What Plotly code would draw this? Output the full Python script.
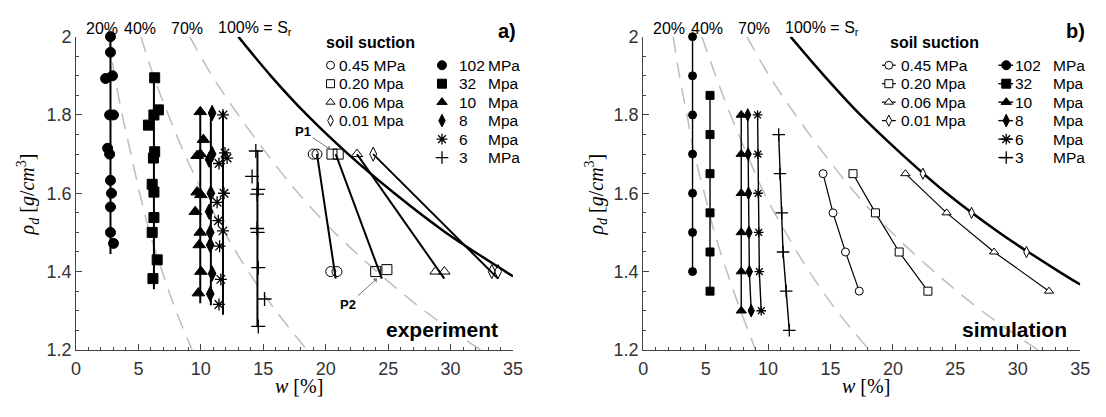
import plotly.graph_objects as go

W, H = 1106, 417

# ---------------- data: experiment (panel a) ----------------
# high suctions (filled markers): water content w [%], dry density rho_d [g/cm3]
exp_102_w = [2.76, 2.76, 2.37, 2.92, 2.69, 3.0, 2.53, 2.69, 2.76, 2.84, 2.76, 2.76, 3.0]
exp_102_r = [2.0, 1.96, 1.893, 1.90, 1.80, 1.80, 1.715, 1.70, 1.633, 1.60, 1.565, 1.50, 1.472]
exp_32_w = [6.3, 5.8, 6.24, 6.6, 6.3, 6.2, 6.1, 6.24, 6.24, 6.1, 6.5, 6.16]
exp_32_r = [1.895, 1.774, 1.80, 1.813, 1.706, 1.69, 1.623, 1.603, 1.538, 1.50, 1.43, 1.382]
exp_10_w = [9.95, 10.2, 9.7, 9.95, 9.7, 10.0, 9.55, 9.95, 9.87, 10.0, 9.8]
exp_10_r = [1.808, 1.737, 1.696, 1.70, 1.603, 1.596, 1.553, 1.50, 1.468, 1.40, 1.345]
exp_8_w = [10.9, 10.66, 10.9, 10.8, 10.66, 10.75, 10.75, 10.9, 10.75]
exp_8_r = [1.805, 1.686, 1.70, 1.60, 1.553, 1.50, 1.468, 1.395, 1.343]
exp_6_w = [11.77, 11.93, 11.45, 12.1, 11.85, 11.3, 11.4, 11.77, 11.5, 11.6, 11.45]
exp_6_r = [1.80, 1.703, 1.676, 1.69, 1.60, 1.577, 1.53, 1.504, 1.465, 1.38, 1.316]
exp_3_w = [14.4, 14.1, 14.6, 14.5, 14.5, 14.55, 14.6, 15.1, 14.6]
exp_3_r = [1.708, 1.643, 1.61, 1.598, 1.51, 1.50, 1.41, 1.33, 1.26]
# vertical trend lines of the high-suction groups
exp_vline_w = [2.76, 6.24, 9.95, 10.8, 11.77, 14.53]
exp_vline_top = [2.0, 1.90, 1.81, 1.81, 1.81, 1.71]
exp_vline_bot = [1.445, 1.355, 1.319, 1.314, 1.29, 1.258]
# low suctions (open markers)
exp_045_w = [19.0, 19.3, 20.4, 20.9]
exp_045_r = [1.70, 1.70, 1.40, 1.40]
exp_020_w = [20.5, 21.0, 24.0, 24.9]
exp_020_r = [1.70, 1.70, 1.40, 1.405]
exp_006_w = [22.5, 28.8, 29.5]
exp_006_r = [1.70, 1.40, 1.40]
exp_001_w = [23.8, 33.3, 33.8]
exp_001_r = [1.70, 1.40, 1.40]
# wetting paths of the low-suction groups
exp_path_w_top = [19.3, 20.8, 22.5, 23.8]
exp_path_r_top = [1.70, 1.70, 1.70, 1.70]
exp_path_w_bot = [20.8, 24.5, 29.5, 33.8]
exp_path_r_bot = [1.382, 1.382, 1.382, 1.382]

# ---------------- data: simulation (panel b) ----------------
sim_102_w = [3.95, 3.95, 3.95, 3.95, 3.95, 3.95, 3.95]
sim_102_r = [2.0, 1.9, 1.8, 1.7, 1.6, 1.5, 1.4]
sim_32_w = [5.35, 5.35, 5.35, 5.35, 5.35, 5.35]
sim_32_r = [1.85, 1.75, 1.65, 1.55, 1.45, 1.35]
sim_10_w = [7.85, 7.85, 7.85, 7.85, 7.85, 7.85]
sim_10_r = [1.8, 1.7, 1.6, 1.5, 1.4, 1.3]
sim_8_w = [8.37, 8.4, 8.43, 8.47, 8.5, 8.65]
sim_8_r = [1.8, 1.7, 1.6, 1.5, 1.4, 1.3]
sim_6_w = [9.16, 9.18, 9.2, 9.25, 9.3, 9.45]
sim_6_r = [1.8, 1.7, 1.6, 1.5, 1.4, 1.3]
sim_3_w = [10.85, 10.95, 11.1, 11.2, 11.45, 11.7]
sim_3_r = [1.75, 1.65, 1.55, 1.45, 1.35, 1.25]
sim_045_w = [14.4, 15.2, 16.2, 17.3]
sim_045_r = [1.65, 1.55, 1.45, 1.35]
sim_020_w = [16.8, 18.6, 20.5, 22.8]
sim_020_r = [1.65, 1.55, 1.45, 1.35]
sim_006_w = [21.0, 24.3, 28.1, 32.5]
sim_006_r = [1.65, 1.55, 1.45, 1.35]
sim_001_w = [22.4, 26.3, 30.7]
sim_001_r = [1.65, 1.55, 1.45]

# ---------------- saturation lines ----------------
sat_r = [2.0, 1.9, 1.8, 1.7, 1.6, 1.5, 1.4, 1.3, 1.2]
exp_sat20 = [2.6, 3.1, 3.7, 4.4, 5.1, 5.9, 6.9, 8.0, 9.3]
exp_sat40 = [5.2, 6.2, 7.4, 8.7, 10.2, 11.9, 13.8, 16.0, 18.5]
exp_sat70 = [9.1, 10.9, 13.0, 15.3, 17.8, 20.7, 24.1, 27.9, 32.4]
exp_sat100_w = [13.0, 15.6, 18.5, 21.8, 25.5, 29.6, 34.4, 35.0]
exp_sat100_r = [2.0, 1.9, 1.8, 1.7, 1.6, 1.5, 1.4, 1.388]
sim_sat20 = [2.4, 2.9, 3.5, 4.1, 4.9, 5.7, 6.7, 7.8, 9.0]
sim_sat40 = [4.7, 5.8, 7.0, 8.3, 9.7, 11.4, 13.3, 15.5, 18.1]
sim_sat70 = [8.3, 10.1, 12.2, 14.5, 17.0, 19.9, 23.3, 27.1, 31.6]
sim_sat100_w = [11.8, 14.5, 17.4, 20.7, 24.3, 28.5, 33.3, 35.0]
sim_sat100_r = [2.0, 1.9, 1.8, 1.7, 1.6, 1.5, 1.4, 1.367]

sat_labels = ["20%", "40%", "70%"]
sat_label_w = [2.1, 5.1, 8.9]

low_labels = ["0.45 MPa", "0.20 Mpa", "0.06 Mpa", "0.01 Mpa"]
high_nums = ["102", "32", "10", "8", "6", "3"]
high_units = ["MPa", "Mpa", "Mpa", "Mpa", "Mpa", "MPa"]

# ---------------- styles ----------------
low_sym_open = ["circle-open", "square-open", "triangle-up-open", "diamond-tall-open"]
low_sym_fill = ["circle", "square", "triangle-up", "diamond-tall"]
high_sym = ["circle", "square", "triangle-up", "diamond-tall", "asterisk-open", "cross-thin-open"]
SANS = "Liberation Sans, Arial, sans-serif"
SERIF = "Liberation Serif, Times New Roman, serif"
AX = "#444444"
DASH = "#bdbdbd"

fig = go.Figure()


def marker_for(sym, size):
    if sym in ("asterisk-open", "cross-thin-open"):
        return dict(symbol=sym, size=size, color="black", line=dict(color="black", width=1.3))
    return dict(symbol=sym, size=size, color="black", line=dict(color="black", width=1))


# ----- panel a -----
for sw in (exp_sat20, exp_sat40, exp_sat70):
    fig.add_trace(go.Scatter(x=sw, y=sat_r, mode="lines", xaxis="x", yaxis="y",
                             line=dict(color=DASH, width=1.5, dash="16px,10px", shape="spline"),
                             hoverinfo="skip"))
fig.add_trace(go.Scatter(x=exp_sat100_w, y=exp_sat100_r, mode="lines", xaxis="x", yaxis="y",
                         line=dict(color="black", width=2.5, shape="spline"), hoverinfo="skip"))
for i in range(len(exp_vline_w)):
    fig.add_trace(go.Scatter(x=[exp_vline_w[i], exp_vline_w[i]], y=[exp_vline_top[i], exp_vline_bot[i]],
                             mode="lines", xaxis="x", yaxis="y", line=dict(color="black", width=2),
                             hoverinfo="skip"))
for i in range(len(exp_path_w_top)):
    fig.add_trace(go.Scatter(x=[exp_path_w_top[i], exp_path_w_bot[i]], y=[exp_path_r_top[i], exp_path_r_bot[i]],
                             mode="lines", xaxis="x", yaxis="y", line=dict(color="black", width=2),
                             hoverinfo="skip"))
exp_high = [(exp_102_w, exp_102_r), (exp_32_w, exp_32_r), (exp_10_w, exp_10_r),
            (exp_8_w, exp_8_r), (exp_6_w, exp_6_r), (exp_3_w, exp_3_r)]
high_sizes_a = [10, 10, 11, 11, 10, 10]
for (xs, ys), sym, sz in zip(exp_high, high_sym, high_sizes_a):
    fig.add_trace(go.Scatter(x=xs, y=ys, mode="markers", xaxis="x", yaxis="y", cliponaxis=False,
                             marker=marker_for(sym, sz)))
exp_low = [(exp_045_w, exp_045_r), (exp_020_w, exp_020_r), (exp_006_w, exp_006_r), (exp_001_w, exp_001_r)]
for (xs, ys), sym in zip(exp_low, low_sym_open):
    fig.add_trace(go.Scatter(x=xs, y=ys, mode="markers", xaxis="x", yaxis="y", cliponaxis=False,
                             marker=dict(symbol=sym, size=10, color="black", line=dict(width=1))))

# ----- panel b -----
for sw in (sim_sat20, sim_sat40, sim_sat70):
    fig.add_trace(go.Scatter(x=sw, y=sat_r, mode="lines", xaxis="x2", yaxis="y2",
                             line=dict(color=DASH, width=1.5, dash="16px,10px", shape="spline"),
                             hoverinfo="skip"))
fig.add_trace(go.Scatter(x=sim_sat100_w, y=sim_sat100_r, mode="lines", xaxis="x2", yaxis="y2",
                         line=dict(color="black", width=2.5, shape="spline"), hoverinfo="skip"))
sim_high = [(sim_102_w, sim_102_r), (sim_32_w, sim_32_r), (sim_10_w, sim_10_r),
            (sim_8_w, sim_8_r), (sim_6_w, sim_6_r), (sim_3_w, sim_3_r)]
high_sizes_b = [8, 8, 9, 9, 8, 9]
for (xs, ys), sym, sz in zip(sim_high, high_sym, high_sizes_b):
    fig.add_trace(go.Scatter(x=xs, y=ys, mode="lines+markers", xaxis="x2", yaxis="y2", cliponaxis=False,
                             line=dict(color="black", width=1.4), marker=marker_for(sym, sz)))
sim_low = [(sim_045_w, sim_045_r), (sim_020_w, sim_020_r), (sim_006_w, sim_006_r), (sim_001_w, sim_001_r)]
for (xs, ys), sym in zip(sim_low, low_sym_fill):
    fig.add_trace(go.Scatter(x=xs, y=ys, mode="lines+markers", xaxis="x2", yaxis="y2", cliponaxis=False,
                             line=dict(color="black", width=1.2),
                             marker=dict(symbol=sym, size=8, color="white", line=dict(color="black", width=1))))

# ----- legends, drawn on a pixel-space overlay axis -----
ROW0, STEP = 58, 19.4
ann = []


def pix_ann(x, y, text, size=15.5, bold=False, anchor="left"):
    ann.append(dict(x=x, y=y, xref="x3", yref="y3", text=("<b>%s</b>" % text) if bold else text,
                    showarrow=False, xanchor=anchor, yanchor="middle",
                    font=dict(family=SANS, size=size, color="black")))


legend_cfg = [
    dict(title_x=371, lo_mx=330, lo_tx=337, hi_mx=443, hi_nx=458, hi_ux=488, line=False),
    dict(title_x=942, lo_mx=896, lo_tx=906, hi_mx=1015, hi_nx=1022, hi_ux=1060, line=True),
]
for cfg in legend_cfg:
    pix_ann(cfg["title_x"], 34, "soil suction", size=16, bold=True, anchor="center")
    for i, lab in enumerate(low_labels):
        yy = ROW0 + i * STEP
        if cfg["line"]:
            fig.add_trace(go.Scatter(x=[cfg["lo_mx"] - 7, cfg["lo_mx"] + 7], y=[yy, yy], mode="lines",
                                     xaxis="x3", yaxis="y3", line=dict(color="black", width=1.2),
                                     hoverinfo="skip"))
            mk = dict(symbol=low_sym_fill[i], size=8, color="white", line=dict(color="black", width=1))
        else:
            mk = dict(symbol=low_sym_open[i], size=8, color="black", line=dict(width=1))
        fig.add_trace(go.Scatter(x=[cfg["lo_mx"]], y=[yy], mode="markers", xaxis="x3", yaxis="y3",
                                 cliponaxis=False, marker=mk, hoverinfo="skip"))
        pix_ann(cfg["lo_tx"], yy, lab)
    for i, (num, unit) in enumerate(zip(high_nums, high_units)):
        yy = ROW0 + i * STEP
        if cfg["line"]:
            fig.add_trace(go.Scatter(x=[cfg["hi_mx"] - 8, cfg["hi_mx"] + 7], y=[yy, yy], mode="lines",
                                     xaxis="x3", yaxis="y3", line=dict(color="black", width=1.4),
                                     hoverinfo="skip"))
        fig.add_trace(go.Scatter(x=[cfg["hi_mx"]], y=[yy], mode="markers", xaxis="x3", yaxis="y3",
                                 cliponaxis=False, marker=marker_for(high_sym[i], 9), hoverinfo="skip"))
        pix_ann(cfg["hi_nx"], yy, num)
        pix_ann(cfg["hi_ux"], yy, unit)

# ----- text annotations -----
for xr, yr in (("x", "y"), ("x2", "y2")):
    for lab, wx in zip(sat_labels, sat_label_w):
        ann.append(dict(x=wx, y=1 - 19 / H, xref=xr, yref="paper", text=lab, showarrow=False,
                        xanchor="center", yanchor="middle", font=dict(family=SANS, size=16, color="black")))
    ann.append(dict(x=11.2, y=1 - 19 / H, xref=xr, yref="paper", text="100% = S<sub>r</sub>",
                    showarrow=False, xanchor="left", yanchor="middle",
                    font=dict(family=SANS, size=16, color="black")))

ann.append(dict(x=520 / W, y=1 - 22 / H, xref="paper", yref="paper", text="<b>a)</b>", showarrow=False,
                xanchor="right", yanchor="middle", font=dict(family=SANS, size=20, color="black")))
ann.append(dict(x=1097 / W, y=1 - 22 / H, xref="paper", yref="paper", text="<b>b)</b>", showarrow=False,
                xanchor="right", yanchor="middle", font=dict(family=SANS, size=20, color="black")))
ann.append(dict(x=29.3, y=1.253, xref="x", yref="y", text="<b>experiment</b>", showarrow=False,
                xanchor="center", yanchor="middle", font=dict(family=SANS, size=21, color="black")))
ann.append(dict(x=29.7, y=1.253, xref="x2", yref="y2", text="<b>simulation</b>", showarrow=False,
                xanchor="center", yanchor="middle", font=dict(family=SANS, size=21, color="black")))
# P1 / P2 arrows
ann.append(dict(x=20.35, y=1.712, ax=18.2, ay=1.759, xref="x", yref="y", axref="x", ayref="y",
                text="<b>P1</b>", showarrow=True, arrowhead=1, arrowsize=1, arrowwidth=1, arrowcolor="#777",
                font=dict(family=SANS, size=13, color="black")))
ann.append(dict(x=24.1, y=1.382, ax=21.8, ay=1.316, xref="x", yref="y", axref="x", ayref="y",
                text="<b>P2</b>", showarrow=True, arrowhead=1, arrowsize=1, arrowwidth=1, arrowcolor="#777",
                font=dict(family=SANS, size=13, color="black")))
# axis titles
ylab = "<i>ρ<sub>d</sub></i> [<i>g</i>/<i>cm</i><sup>3</sup>]"
xlab = "<i>w</i> [%]"
for px in (23, 599):
    ann.append(dict(x=px / W, y=1 - 194 / H, xref="paper", yref="paper", text=ylab, textangle=-90,
                    showarrow=False, xanchor="center", yanchor="middle",
                    font=dict(family=SERIF, size=20, color="black")))
for px in (298, 873):
    ann.append(dict(x=px / W, y=1 - 395 / H, xref="paper", yref="paper", text=xlab,
                    showarrow=False, xanchor="center", yanchor="middle",
                    font=dict(family=SERIF, size=20, color="black")))

xcommon = dict(range=[0, 35], dtick=5, tick0=0, showline=True, linecolor=AX, linewidth=1, mirror=False,
               ticks="inside", ticklen=6, tickwidth=1, tickcolor=AX, showgrid=False, zeroline=False,
               ticklabelstandoff=3,
               tickfont=dict(family=SANS, size=18, color="#333"),
               minor=dict(ticks="inside", ticklen=3, dtick=1, tickcolor=AX, showgrid=False))
ycommon = dict(range=[1.2, 2.0], dtick=0.2, tick0=1.2, showline=True, linecolor=AX, linewidth=1, mirror=False,
               ticks="inside", ticklen=6, tickwidth=1, tickcolor=AX, showgrid=False, zeroline=False,
               tickfont=dict(family=SANS, size=18, color="#333"),
               minor=dict(ticks="inside", ticklen=3, dtick=0.05, tickcolor=AX, showgrid=False))
ydom = [1 - 357 / H, 1 - 28 / H]

fig.update_layout(
    width=W, height=H, margin=dict(l=0, r=0, t=0, b=0), autosize=False,
    paper_bgcolor="white", plot_bgcolor="rgba(0,0,0,0)", showlegend=False,
    font=dict(family=SANS, color="black"),
    xaxis=dict(domain=[72 / W, 515 / W], anchor="y", **xcommon),
    yaxis=dict(domain=ydom, anchor="x", **ycommon),
    xaxis2=dict(domain=[647 / W, 1090 / W], anchor="y2", **xcommon),
    yaxis2=dict(domain=ydom, anchor="x2", **ycommon),
    xaxis3=dict(domain=[0, 1], range=[0, W], anchor="y3", visible=False, fixedrange=True),
    yaxis3=dict(domain=[0, 1], range=[H, 0], anchor="x3", visible=False, fixedrange=True),
    annotations=ann,
)

fig.write_html("out.html")
